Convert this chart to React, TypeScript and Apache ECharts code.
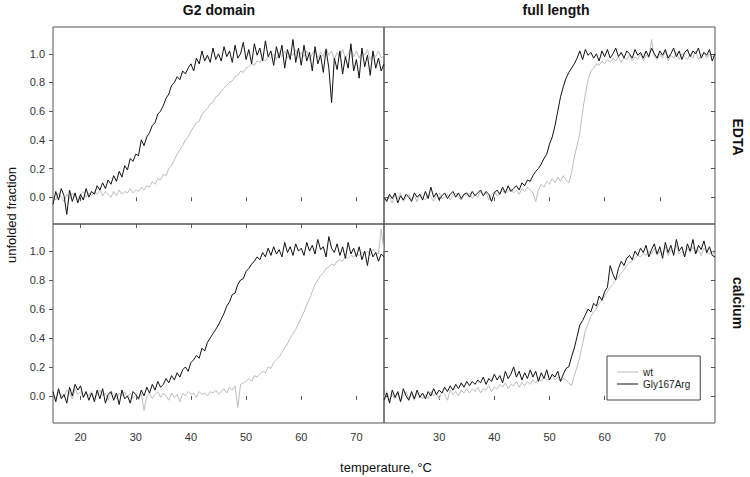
import React, { useEffect, useRef } from "react";
import * as echarts from "echarts";

// ---- data (temperature grid starts, step 0.5 °C) ----
const G2_START = 15;
const FL_START = 20;
const STEP = 0.5;

const g2EdtaWt = [
  0.02, -0.02, 0.03, 0.0, -0.03, 0.02, -0.01, 0.03, 0.0, -0.02, 0.02, 0.04, 0.0, 0.03, 0.01,
  0.04, 0.02, 0.05, 0.01, 0.04, 0.02, 0.0, 0.04, 0.01, 0.05, 0.02, 0.04, 0.03, 0.06, 0.03, 0.05,
  0.04, 0.07, 0.05, 0.08, 0.07, 0.11, 0.09, 0.13, 0.12, 0.16, 0.15, 0.2, 0.22, 0.26, 0.3, 0.33, 0.36, 0.4, 0.42, 0.46,
  0.49, 0.52, 0.53, 0.58, 0.6, 0.62, 0.65, 0.66, 0.7, 0.71, 0.74, 0.76, 0.78, 0.8, 0.81, 0.84, 0.85, 0.88, 0.87, 0.9,
  0.91, 0.93, 0.92, 0.95, 0.94, 0.97, 0.95, 0.98, 0.97, 1.0, 0.96, 1.01, 0.98, 1.02, 0.97, 1.0, 0.99, 1.03, 0.97, 1.01,
  0.98, 1.02, 0.96, 1.0, 1.03, 0.97, 1.01, 0.98, 1.04, 0.99, 1.02, 0.96, 1.01, 0.98, 1.03, 0.97, 1.0, 1.04, 0.98, 1.02,
  0.97, 1.01, 0.99, 1.03, 0.96, 1.0, 0.98, 1.02, 0.97, 0.99,
];
const g2EdtaMut = [
  -0.05, 0.04, -0.02, 0.06, 0.01, -0.12, 0.05, -0.03, 0.03, -0.04, 0.02, -0.02, 0.06, 0.0, 0.04,
  0.02, 0.08, 0.05, 0.1, 0.06, 0.12, 0.09, 0.15, 0.11, 0.18, 0.14, 0.22, 0.19, 0.27, 0.25, 0.3,
  0.29, 0.4, 0.36, 0.42, 0.45, 0.5, 0.52, 0.58, 0.6, 0.64, 0.69, 0.72, 0.78, 0.8, 0.84, 0.82, 0.88, 0.86, 0.9, 0.93,
  0.88, 0.97, 0.93, 1.02, 0.95, 0.99, 0.94, 1.04, 0.96, 1.0, 0.95, 1.05, 0.98, 1.02, 0.94, 1.06, 0.97, 1.0, 1.08, 0.96,
  1.03, 0.93, 1.07, 0.99, 1.04, 0.95, 1.09, 0.98, 1.02, 0.92, 1.05, 0.97, 1.06, 0.9, 1.03, 0.96, 1.1, 0.94, 1.04, 0.92,
  1.06, 0.95, 1.01, 0.88, 1.05, 0.93, 0.99, 0.87, 1.03, 0.9, 0.66, 0.97, 0.89, 1.02, 0.86, 0.98, 0.9, 1.07, 0.88, 0.96,
  0.83, 1.04, 0.91, 0.99, 0.85, 1.02, 0.9, 0.97, 0.88, 0.93,
];
const flEdtaWt = [
  0.01, -0.02, 0.0, -0.04, 0.02, -0.01, 0.03, -0.03, 0.0, 0.02, -0.02, 0.01, -0.03, 0.02, 0.0,
  -0.02, 0.02, 0.0, -0.03, 0.01, 0.03, -0.01, 0.0, 0.02, -0.02, 0.01, 0.03, 0.0, -0.02, 0.02, 0.01,
  0.03, -0.01, 0.02, 0.0, 0.04, 0.01, 0.03, -0.02, 0.02, 0.04, 0.01, 0.03, 0.05, 0.02, 0.04, 0.06, 0.03, 0.05, 0.02, 0.06,
  0.04, 0.07, 0.05, 0.03, -0.03, 0.05, 0.09, 0.07, 0.11, 0.09, 0.13, 0.1, 0.14, 0.11, 0.15, 0.12, 0.1, 0.17, 0.28, 0.36,
  0.45, 0.6, 0.72, 0.82, 0.88, 0.9, 0.93, 0.92, 0.95, 0.93, 0.96, 0.94, 0.97, 0.95, 0.98, 0.94, 0.97, 0.96, 0.99, 0.95,
  0.98, 0.96, 1.0, 0.95, 0.99, 0.97, 1.1, 0.98, 0.96, 1.0, 0.97, 1.02, 0.95, 0.99, 0.97, 1.01, 0.96, 1.0, 0.98, 0.96,
  1.0, 0.97, 1.02, 0.96, 0.99, 1.01, 0.97, 1.0, 0.98, 0.99,
];
const flEdtaMut = [
  0.0, -0.03, 0.02, -0.01, 0.03, -0.04, 0.01, -0.02, 0.02, 0.0, -0.03, 0.03, 0.0, 0.02, -0.02,
  0.04, -0.01, 0.07, 0.0, 0.03, -0.02, 0.01, 0.03, -0.01, 0.02, 0.04, 0.0, 0.03, -0.01, 0.02, 0.03,
  0.0, 0.04, 0.01, 0.03, 0.05, 0.01, 0.04, 0.02, -0.03, 0.03, 0.05, 0.02, 0.07, 0.03, 0.08, 0.04, 0.06, 0.08, 0.05, 0.1,
  0.08, 0.12, 0.11, 0.15, 0.18, 0.2, 0.23, 0.27, 0.3, 0.37, 0.42, 0.5, 0.6, 0.7, 0.77, 0.83, 0.87, 0.9, 0.93, 0.97,
  1.02, 0.96, 1.03, 0.99, 1.01, 0.97, 1.0, 0.95, 1.02, 0.98, 1.03, 0.97, 1.0, 1.04, 0.98, 1.01, 0.97, 1.02, 1.0, 0.97,
  1.03, 0.99, 1.01, 0.97, 1.02, 0.98, 1.04, 1.0, 0.97, 1.02, 0.99, 1.03, 0.97, 1.0, 1.04, 0.98, 1.02, 0.96, 1.01, 1.03,
  0.98, 1.02, 1.0, 1.04, 0.97, 1.01, 0.99, 1.03, 0.95, 1.0,
];
const g2CaWt = [
  0.01, -0.02, 0.03, 0.0, -0.01, 0.04, 0.02, -0.02, 0.05, 0.01, 0.03, -0.01, 0.02, 0.0, 0.03,
  -0.02, 0.01, 0.04, 0.0, 0.02, -0.03, 0.03, 0.01, -0.02, 0.02, 0.0, 0.03, -0.01, 0.02, -0.02, 0.01,
  -0.03, 0.02, -0.1, 0.0, 0.02, -0.02, 0.01, 0.03, -0.01, 0.02, 0.0, -0.03, 0.02, -0.01, 0.01, -0.04, 0.02, 0.0, 0.03, 0.01,
  0.02, -0.01, 0.03, 0.01, 0.02, 0.0, 0.03, 0.02, 0.04, 0.01, 0.03, 0.05, 0.02, 0.06, 0.04, 0.07, -0.08, 0.08, 0.09, 0.1,
  0.12, 0.1, 0.14, 0.13, 0.15, 0.17, 0.16, 0.2, 0.19, 0.23, 0.25, 0.27, 0.3, 0.33, 0.36, 0.4, 0.43, 0.46, 0.5, 0.54,
  0.58, 0.63, 0.67, 0.72, 0.77, 0.8, 0.83, 0.85, 0.88, 0.89, 0.91, 0.9, 0.93, 0.94, 0.93, 0.96, 0.95, 0.97, 0.96, 0.98,
  0.97, 0.99, 0.98, 1.0, 0.97, 1.01, 0.99, 0.98, 1.15, 1.0,
];
const g2CaMut = [
  0.03, -0.04, 0.05, -0.02, 0.01, -0.05, 0.06, 0.0, 0.08, 0.04, 0.07, -0.01, 0.03, -0.03, 0.02,
  -0.04, 0.04, -0.02, 0.05, -0.05, 0.01, 0.03, -0.03, 0.02, -0.06, 0.04, -0.02, 0.0, -0.05, 0.03, 0.01,
  -0.02, 0.04, 0.0, 0.06, 0.02, 0.08, 0.04, 0.1, 0.06, 0.08, 0.12, 0.09, 0.14, 0.11, 0.16, 0.13, 0.18, 0.2, 0.17, 0.23,
  0.25, 0.28, 0.26, 0.33, 0.31, 0.37, 0.4, 0.43, 0.46, 0.49, 0.53, 0.57, 0.62, 0.65, 0.7, 0.71, 0.77, 0.8, 0.81, 0.86,
  0.88, 0.91, 0.93, 0.96, 0.94, 0.99, 0.96, 1.02, 0.97, 1.03, 0.98, 1.01, 0.96, 1.06, 0.99, 1.03, 0.97, 1.05, 1.0, 1.02,
  0.97, 1.06, 1.0, 1.04, 0.98, 1.08, 1.01, 1.03, 0.96, 1.1, 1.02, 0.99, 1.05, 0.97, 1.03, 0.95, 1.06, 0.98, 1.02, 0.96,
  1.03, 0.94, 1.0, 0.9, 1.02, 0.96, 0.99, 0.93, 0.98, 0.96,
];
const flCaWt = [
  -0.01, 0.03, -0.03, 0.01, -0.02, 0.02, -0.04, 0.0, 0.03, -0.02, 0.01, -0.03, 0.02, 0.0, -0.02,
  0.01, -0.02, 0.03, 0.0, 0.02, -0.02, 0.03, 0.01, -0.03, 0.04, 0.01, 0.03, 0.0, 0.04, 0.02, 0.05,
  0.02, 0.05, 0.03, 0.06, 0.02, 0.05, 0.04, 0.07, 0.03, 0.06, 0.05, 0.08, 0.06, 0.09, 0.05, 0.08, 0.07, 0.1, 0.06, 0.09,
  0.07, 0.1, 0.08, 0.11, 0.09, 0.12, 0.1, 0.13, 0.11, 0.12, 0.14, 0.11, 0.13, 0.1, 0.12, 0.11, 0.09, 0.07, 0.14, 0.2,
  0.27, 0.36, 0.45, 0.5, 0.55, 0.58, 0.6, 0.64, 0.66, 0.69, 0.72, 0.75, 0.77, 0.8, 0.82, 0.85, 0.87, 0.9, 0.92, 0.93,
  0.95, 0.97, 0.96, 0.99, 0.97, 1.0, 0.98, 1.02, 0.97, 1.0, 0.98, 1.03, 0.97, 1.01, 0.99, 1.04, 0.98, 1.0, 0.97, 1.02,
  0.99, 1.03, 0.98, 1.01, 0.97, 1.02, 0.99, 0.98, 1.0, 0.97,
];
const flCaMut = [
  -0.03, 0.02, -0.05, 0.04, -0.01, 0.03, -0.04, 0.05, 0.0, -0.03, 0.03, -0.02, 0.04, -0.01, 0.02,
  -0.02, 0.03, 0.0, 0.05, 0.01, 0.04, 0.02, 0.06, 0.03, 0.07, 0.04, 0.08, 0.05, 0.09, 0.06, 0.1,
  0.07, 0.1, 0.08, 0.11, 0.09, 0.13, 0.08, 0.12, 0.1, 0.15, 0.11, 0.14, 0.09, 0.17, 0.12, 0.15, 0.2, 0.13, 0.17, 0.11,
  0.16, 0.12, 0.18, 0.13, 0.17, 0.1, 0.16, 0.12, 0.18, 0.11, 0.15, 0.13, 0.17, 0.1, 0.15, 0.19, 0.2, 0.27, 0.33, 0.41,
  0.49, 0.52, 0.56, 0.6, 0.58, 0.64, 0.62, 0.69, 0.66, 0.72, 0.75, 0.9, 0.84, 0.8, 0.88, 0.93, 0.9, 0.95, 0.97, 0.94,
  1.0, 0.97, 1.02, 0.99, 1.04, 0.96, 1.01, 1.05, 0.98, 1.03, 0.95, 1.06, 0.99, 1.04, 0.97, 1.08, 1.0, 1.03, 0.96, 1.05,
  1.0, 1.08, 0.98, 1.04, 1.01, 1.07, 0.99, 1.03, 0.97, 0.96,
];

const g2XTicks = [20, 30, 40, 50, 60, 70];
const flXTicks = [30, 40, 50, 60, 70];
const yTicks = [0, 0.2, 0.4, 0.6, 0.8, 1.0];
const seriesNames = ["wt", "Gly167Arg"];
const colTitles = ["G2 domain", "full length"];
const rowTitles = ["EDTA", "calcium"];

const FONT = "'Liberation Sans', Arial, Helvetica, sans-serif";
const FRAME = "#555";
const WT_COLOR = "#bdbdbd";
const MUT_COLOR = "#111111";
const Y_MIN = -0.187;
const Y_MAX = 1.187;

const toPoints = (start: number, vals: number[]) =>
  vals.map((v, i) => [start + i * STEP, v]);

function xAx(gridIndex: number, min: number, max: number, position: string, ticks: number[], outer: boolean) {
  return {
    type: "value",
    gridIndex,
    min,
    max,
    position,
    splitLine: { show: false },
    axisLine: { show: false },
    axisTick: {
      show: true,
      inside: !outer,
      length: 4,
      customValues: ticks,
      lineStyle: { color: FRAME, width: 1 },
    },
    axisLabel: {
      show: outer,
      customValues: ticks,
      margin: 8,
      color: "#333",
      fontSize: 11,
      fontFamily: FONT,
    },
  };
}

function yAx(gridIndex: number, position: string, outer: boolean) {
  return {
    type: "value",
    gridIndex,
    min: Y_MIN,
    max: Y_MAX,
    position,
    splitLine: { show: false },
    axisLine: { show: false },
    axisTick: {
      show: true,
      inside: !outer,
      length: 4,
      customValues: yTicks,
      lineStyle: { color: FRAME, width: 1 },
    },
    axisLabel: {
      show: outer,
      customValues: yTicks,
      margin: 8,
      color: "#333",
      fontSize: 11,
      fontFamily: FONT,
      formatter: (v: number) => v.toFixed(1),
    },
  };
}

function lineSeries(name: string, color: string, xAxisIndex: number, yAxisIndex: number, data: number[][], z: number) {
  return {
    type: "line",
    name,
    xAxisIndex,
    yAxisIndex,
    data,
    showSymbol: false,
    symbol: "none",
    z,
    itemStyle: { color },
    lineStyle: { color, width: 1 },
  };
}

function text(t: string, x: number, y: number, size: number, bold: boolean, rotation: number) {
  return {
    type: "text",
    x,
    y,
    rotation,
    style: {
      text: t,
      fill: "#111",
      fontSize: size,
      fontWeight: bold ? "bold" : "normal",
      fontFamily: FONT,
      align: "center",
      verticalAlign: "middle",
      textAlign: "center",
      textVerticalAlign: "middle",
    },
  };
}

export default function App() {
  const ref = useRef<HTMLDivElement>(null);
  useEffect(() => {
    if (!ref.current) return;
    const chart = echarts.init(ref.current, undefined, { renderer: "svg" });
    const gridBase = { show: true, borderColor: FRAME, borderWidth: 1, backgroundColor: "transparent", containLabel: false, outerBoundsMode: "none" };
    const option: any = {
      animation: false,
      backgroundColor: "#fff",
      grid: [
        { ...gridBase, left: 53, top: 27, width: 331, height: 197 },
        { ...gridBase, left: 384, top: 27, width: 331, height: 197 },
        { ...gridBase, left: 53, top: 224, width: 331, height: 199 },
        { ...gridBase, left: 384, top: 224, width: 331, height: 199 },
      ],
      xAxis: [
        xAx(0, 15, 75, "top", g2XTicks, false),
        xAx(1, 20, 80, "top", flXTicks, false),
        xAx(2, 15, 75, "bottom", g2XTicks, true),
        xAx(3, 20, 80, "bottom", flXTicks, true),
        xAx(2, 15, 75, "top", g2XTicks, false),
        xAx(3, 20, 80, "top", flXTicks, false),
      ],
      yAxis: [
        yAx(0, "left", true),
        yAx(1, "left", false),
        yAx(1, "right", false),
        yAx(2, "left", true),
        yAx(3, "left", false),
        yAx(3, "right", false),
      ],
      legend: {
        data: seriesNames,
        left: 607,
        top: 356,
        orient: "vertical",
        icon: "rect",
        itemWidth: 21,
        itemHeight: 1,
        itemGap: 0,
        padding: [10, 10, 10, 10],
        borderColor: "#444",
        borderWidth: 1,
        backgroundColor: "#fff",
        selectedMode: false,
        textStyle: { fontSize: 10, fontFamily: FONT, color: "#222", lineHeight: 12 },
      },
      series: [
        lineSeries(seriesNames[0], WT_COLOR, 0, 0, toPoints(G2_START, g2EdtaWt), 2),
        lineSeries(seriesNames[1], MUT_COLOR, 0, 0, toPoints(G2_START, g2EdtaMut), 3),
        lineSeries(seriesNames[0], WT_COLOR, 1, 1, toPoints(FL_START, flEdtaWt), 2),
        lineSeries(seriesNames[1], MUT_COLOR, 1, 1, toPoints(FL_START, flEdtaMut), 3),
        lineSeries(seriesNames[0], WT_COLOR, 2, 3, toPoints(G2_START, g2CaWt), 2),
        lineSeries(seriesNames[1], MUT_COLOR, 2, 3, toPoints(G2_START, g2CaMut), 3),
        lineSeries(seriesNames[0], WT_COLOR, 3, 4, toPoints(FL_START, flCaWt), 2),
        lineSeries(seriesNames[1], MUT_COLOR, 3, 4, toPoints(FL_START, flCaMut), 3),
      ],
      graphic: [
        text(colTitles[0], 219, 10, 14, true, 0),
        text(colTitles[1], 556, 10, 14, true, 0),
        text(rowTitles[0], 738, 137, 14, true, -Math.PI / 2),
        text(rowTitles[1], 738, 303, 14, true, -Math.PI / 2),
        text("unfolded fraction", 11, 215, 13, false, Math.PI / 2),
        text("temperature, °C", 386, 467, 13, false, 0),
      ],
    };
    chart.setOption(option);
    return () => chart.dispose();
  }, []);
  return (
    <div
      ref={ref}
      style={{ position: "fixed", left: 0, top: 0, width: 750, height: 477, background: "#fff" }}
    />
  );
}
